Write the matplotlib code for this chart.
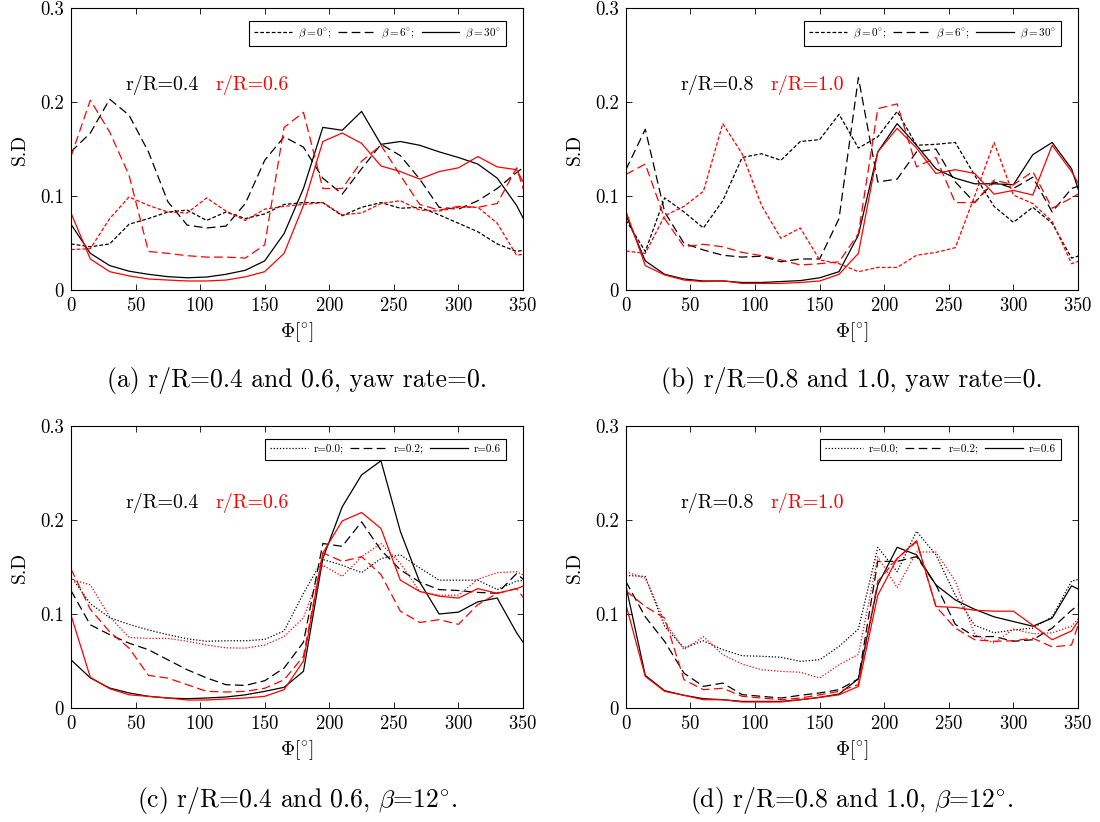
import numpy as np
import matplotlib
matplotlib.use("Agg")
from matplotlib import pyplot as plt

plt.rcParams["font.family"] = "serif"
plt.rcParams["font.serif"] = ["cmr10", "DejaVu Serif"]
plt.rcParams["mathtext.fontset"] = "cm"
plt.rcParams["axes.formatter.use_mathtext"] = True

phi = np.arange(0, 361, 15)

# (a) r/R=0.4 (black) and 0.6 (red), yaw rate=0; beta = 0, 6, 30
a_blk = [
    [0.049, 0.046, 0.049, 0.070, 0.076, 0.083, 0.085, 0.074, 0.083, 0.076, 0.081, 0.091, 0.093,
     0.093, 0.079, 0.088, 0.093, 0.087, 0.088, 0.080, 0.071, 0.062, 0.049, 0.041, 0.045],
    [0.147, 0.167, 0.203, 0.186, 0.147, 0.094, 0.069, 0.066, 0.068, 0.092, 0.138, 0.163, 0.152,
     0.119, 0.102, 0.129, 0.155, 0.143, 0.118, 0.088, 0.086, 0.095, 0.108, 0.125, 0.140],
    [0.070, 0.039, 0.026, 0.020, 0.0167, 0.0142, 0.013, 0.0138, 0.0167, 0.021, 0.031, 0.060, 0.108,
     0.173, 0.170, 0.190, 0.155, 0.158, 0.154, 0.147, 0.141, 0.134, 0.119, 0.090, 0.050],
]
a_red = [
    [0.043, 0.044, 0.076, 0.099, 0.090, 0.083, 0.082, 0.098, 0.084, 0.074, 0.086, 0.089, 0.091,
     0.093, 0.080, 0.082, 0.092, 0.095, 0.085, 0.084, 0.088, 0.088, 0.071, 0.037, 0.040],
    [0.142, 0.202, 0.168, 0.122, 0.041, 0.039, 0.0365, 0.035, 0.035, 0.034, 0.048, 0.173, 0.189,
     0.108, 0.108, 0.137, 0.154, 0.122, 0.091, 0.085, 0.089, 0.088, 0.092, 0.130, 0.065],
    [0.082, 0.033, 0.0195, 0.015, 0.0117, 0.0106, 0.0096, 0.0096, 0.0106, 0.014, 0.0195, 0.039, 0.090,
     0.158, 0.167, 0.156, 0.132, 0.126, 0.118, 0.126, 0.130, 0.142, 0.131, 0.128, 0.090],
]

# (b) r/R=0.8 (black) and 1.0 (red), yaw rate=0
b_blk = [
    [0.0745, 0.041, 0.098, 0.083, 0.066, 0.095, 0.141, 0.145, 0.138, 0.158, 0.160, 0.187, 0.151,
     0.163, 0.190, 0.154, 0.155, 0.157, 0.122, 0.089, 0.072, 0.088, 0.071, 0.034, 0.040],
    [0.128, 0.171, 0.083, 0.0496, 0.0426, 0.037, 0.035, 0.036, 0.030, 0.033, 0.033, 0.076, 0.226,
     0.115, 0.118, 0.147, 0.150, 0.115, 0.093, 0.115, 0.108, 0.120, 0.083, 0.108, 0.115],
    [0.080, 0.031, 0.0167, 0.0117, 0.0096, 0.0096, 0.008, 0.008, 0.009, 0.010, 0.013, 0.0195, 0.0585,
     0.147, 0.177, 0.154, 0.129, 0.119, 0.113, 0.113, 0.112, 0.144, 0.157, 0.129, 0.066],
]
b_red = [
    [0.0415, 0.039, 0.079, 0.089, 0.105, 0.177, 0.145, 0.090, 0.055, 0.066, 0.032, 0.028, 0.0195,
     0.024, 0.024, 0.037, 0.040, 0.045, 0.100, 0.157, 0.101, 0.092, 0.073, 0.028, 0.035],
    [0.123, 0.134, 0.076, 0.046, 0.0486, 0.046, 0.040, 0.0365, 0.032, 0.0266, 0.028, 0.030, 0.060,
     0.193, 0.198, 0.131, 0.141, 0.093, 0.093, 0.117, 0.112, 0.126, 0.087, 0.098, 0.110],
    [0.084, 0.026, 0.016, 0.0106, 0.0089, 0.0099, 0.007, 0.007, 0.007, 0.008, 0.0096, 0.0167, 0.039,
     0.147, 0.172, 0.151, 0.124, 0.128, 0.124, 0.102, 0.106, 0.101, 0.154, 0.126, 0.090],
]

# (c) r/R=0.4 (black) and 0.6 (red), beta=12; r = 0.0, 0.2, 0.6
c_blk = [
    [0.140, 0.111, 0.096, 0.089, 0.083, 0.078, 0.0736, 0.071, 0.0715, 0.0715, 0.073, 0.082, 0.122,
     0.158, 0.152, 0.144, 0.159, 0.163, 0.149, 0.136, 0.136, 0.136, 0.126, 0.135, 0.137],
    [0.125, 0.0885, 0.078, 0.069, 0.062, 0.0513, 0.0407, 0.032, 0.0248, 0.024, 0.029, 0.0425, 0.070,
     0.175, 0.172, 0.198, 0.168, 0.147, 0.134, 0.126, 0.125, 0.123, 0.122, 0.143, 0.125],
    [0.0513, 0.032, 0.0212, 0.016, 0.0124, 0.0106, 0.0099, 0.0106, 0.0117, 0.014, 0.0177, 0.022, 0.039,
     0.159, 0.214, 0.248, 0.263, 0.188, 0.134, 0.100, 0.102, 0.113, 0.117, 0.080, 0.050],
]
c_red = [
    [0.137, 0.131, 0.097, 0.075, 0.074, 0.074, 0.071, 0.067, 0.064, 0.0637, 0.067, 0.076, 0.096,
     0.152, 0.140, 0.161, 0.175, 0.154, 0.124, 0.120, 0.120, 0.137, 0.144, 0.145, 0.135],
    [0.148, 0.105, 0.081, 0.0637, 0.0347, 0.0318, 0.0248, 0.0177, 0.017, 0.0177, 0.021, 0.030, 0.055,
     0.165, 0.156, 0.161, 0.142, 0.103, 0.091, 0.094, 0.089, 0.110, 0.122, 0.127, 0.100],
    [0.099, 0.0326, 0.0205, 0.014, 0.0124, 0.0106, 0.0085, 0.0085, 0.0096, 0.0106, 0.0124, 0.0195, 0.050,
     0.165, 0.199, 0.208, 0.191, 0.136, 0.124, 0.119, 0.117, 0.127, 0.122, 0.127, 0.135],
]

# (d) r/R=0.8 (black) and 1.0 (red), beta=12
d_blk = [
    [0.141, 0.140, 0.0867, 0.064, 0.0715, 0.062, 0.0556, 0.055, 0.054, 0.0496, 0.0513, 0.0655, 0.084,
     0.171, 0.145, 0.188, 0.163, 0.120, 0.088, 0.080, 0.083, 0.085, 0.097, 0.135, 0.140],
    [0.1345, 0.097, 0.0708, 0.037, 0.023, 0.0265, 0.0142, 0.0124, 0.0106, 0.0135, 0.016, 0.0195, 0.031,
     0.156, 0.156, 0.161, 0.131, 0.089, 0.076, 0.076, 0.071, 0.0726, 0.085, 0.104, 0.120],
    [0.130, 0.0347, 0.0184, 0.0135, 0.0099, 0.0088, 0.007, 0.007, 0.007, 0.0088, 0.0113, 0.0149, 0.031,
     0.131, 0.171, 0.163, 0.131, 0.115, 0.105, 0.097, 0.092, 0.087, 0.0956, 0.130, 0.120],
]
d_red = [
    [0.145, 0.138, 0.092, 0.062, 0.076, 0.0566, 0.0467, 0.0407, 0.039, 0.038, 0.0319, 0.046, 0.057,
     0.161, 0.128, 0.166, 0.166, 0.135, 0.078, 0.069, 0.084, 0.079, 0.080, 0.087, 0.110],
    [0.1246, 0.108, 0.0956, 0.030, 0.0195, 0.021, 0.0124, 0.0106, 0.0088, 0.0106, 0.014, 0.0177, 0.025,
     0.135, 0.159, 0.177, 0.108, 0.085, 0.0726, 0.071, 0.0715, 0.0743, 0.065, 0.067, 0.130],
    [0.110, 0.0336, 0.0177, 0.0135, 0.0088, 0.0088, 0.0064, 0.0064, 0.0064, 0.0088, 0.0113, 0.014, 0.023,
     0.120, 0.159, 0.178, 0.108, 0.107, 0.104, 0.103, 0.103, 0.088, 0.0726, 0.082, 0.112],
]

beta_labels = [r"$\beta=0^{\circ}$;", r"$\beta=6^{\circ}$;", r"$\beta=30^{\circ}$"]
rate_labels = ["r=0.0;", "r=0.2;", "r=0.6"]
captions = [
    "(a) r/R=0.4 and 0.6, yaw rate=0.",
    "(b) r/R=0.8 and 1.0, yaw rate=0.",
    "(c) r/R=0.4 and 0.6, $\\beta$=12$^{\\circ}$.",
    "(d) r/R=0.8 and 1.0, $\\beta$=12$^{\\circ}$.",
]
radii = [("r/R=0.4", "r/R=0.6"), ("r/R=0.8", "r/R=1.0"),
         ("r/R=0.4", "r/R=0.6"), ("r/R=0.8", "r/R=1.0")]

dash_ab = [(0, (3, 1.6)), (0, (7, 3.5)), "-"]
dash_cd = [(0, (1, 1.5)), (0, (7, 3.5)), "-"]

fig = plt.figure(figsize=(11, 8.22), dpi=100)
positions = [
    [0.0645, 0.6472, 0.411, 0.343],
    [0.569, 0.6472, 0.411, 0.343],
    [0.0645, 0.1387, 0.411, 0.343],
    [0.569, 0.1387, 0.411, 0.343],
]
cap_off = [0.1095, 0.1095, 0.112, 0.112]
panels = [(a_blk, a_red), (b_blk, b_red), (c_blk, c_red), (d_blk, d_red)]

for k, (blk, red) in enumerate(panels):
    ax = fig.add_axes(positions[k])
    styles = dash_ab if k < 2 else dash_cd
    labels = beta_labels if k < 2 else rate_labels
    handles = []
    for s, ys in enumerate(blk):
        (h,) = ax.plot(phi, ys, color="black", lw=0.9, linestyle=styles[s], label=labels[s])
        handles.append(h)
    for s, ys in enumerate(red):
        ax.plot(phi, ys, color="red", lw=0.9, linestyle=styles[s])
    ax.set_xlim(0, 350)
    ax.set_ylim(0, 0.3)
    ax.set_xticks(np.arange(0, 351, 50))
    ax.set_yticks([0, 0.1, 0.2, 0.3])
    ax.set_yticklabels(["0", "0.1", "0.2", "0.3"])
    ax.tick_params(direction="in", top=True, right=True, labelsize=13.5,
                   length=4, width=0.6, pad=5)
    for sp in ax.spines.values():
        sp.set_linewidth(0.8)
    ax.set_xlabel(r"$\Phi[^{\circ}]$", fontsize=14, labelpad=4)
    ax.set_ylabel("S.D", fontsize=14, labelpad=8)
    leg = ax.legend(
        handles=handles, loc="upper right", ncol=3, fontsize=8,
        frameon=True, fancybox=False, edgecolor="black", framealpha=1,
        handlelength=3.4, columnspacing=0.6, handletextpad=0.5,
        borderpad=0.5, bbox_to_anchor=(0.975, 0.975),
    )
    leg.get_frame().set_linewidth(0.8)
    ax.text(42, 0.218, radii[k][0], color="black", fontsize=14.4, va="center")
    ax.text(112, 0.218, radii[k][1], color="red", fontsize=14.4, va="center")
    fig.text(positions[k][0] + positions[k][2] / 2, positions[k][1] - cap_off[k],
             captions[k], ha="center", va="center", fontsize=18.5)

fig.savefig("out.png", dpi=100)
